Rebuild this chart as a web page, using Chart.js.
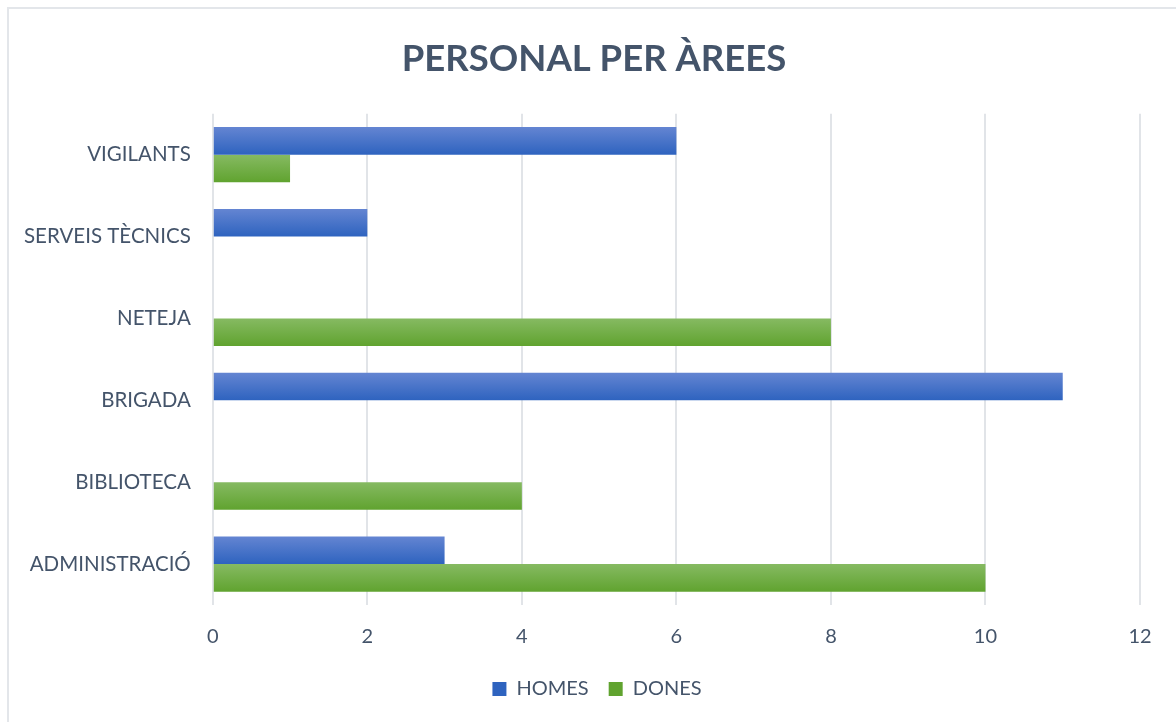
<!DOCTYPE html>
<html>
<head>
<meta charset="utf-8">
<script src="https://cdn.jsdelivr.net/npm/chart.js@4"></script>
<style>
  body { margin: 0; background: #fff; }
  #frame { position: absolute; left: 7px; top: 7px; width: 1190px; height: 740px; border: 2px solid #e3e6ea; }
  #wrap { position: absolute; left: 0; top: 0; width: 1176px; height: 722px; }
</style>
</head>
<body>
<div id="frame"></div>
<div id="wrap"><canvas id="areaChart"></canvas></div>
<script>
// categories (top to bottom)
var arees = ['VIGILANTS', 'SERVEIS TÈCNICS', 'NETEJA', 'BRIGADA', 'BIBLIOTECA', 'ADMINISTRACIÓ'];
// series
var homes = [6, 2, 0, 11, 0, 3];
var dones = [1, 0, 8, 0, 4, 10];
var xTicks = [0, 2, 4, 6, 8, 10, 12];

var textColor = '#44546a';
var catPct = 0.675;

// degradat vertical per cada barra (estil Excel)
function barGradient(top, bottom, dsIndex) {
	return function(context) {
		var chart = context.chart;
		if (!chart.chartArea || context.dataIndex === undefined) return bottom;
		var yScale = chart.scales.y;
		var band = (yScale.bottom - yScale.top) / arees.length;
		var th = band * catPct / 2;
		var center = yScale.getPixelForValue(context.dataIndex);
		var y0 = center - th + dsIndex * th;
		var g = chart.ctx.createLinearGradient(0, y0, 0, y0 + th);
		g.addColorStop(0, top);
		g.addColorStop(1, bottom);
		return g;
	};
}

// centra títol i llegenda sobre tot el gràfic
var centerBlocks = {
	id: 'centerBlocks',
	afterLayout: function(chart) {
		if (chart.titleBlock) {
			chart.titleBlock.left += 23;
			chart.titleBlock.right += 23;
		}
		if (chart.legend) {
			chart.legend.left += 26;
			chart.legend.right += 26;
		}
	}
};

var chartArea = document.getElementById('areaChart').getContext('2d');
var myChart = new Chart(chartArea, {
	type: 'bar',
	data: {
		labels: arees,
		datasets: [{
			label: 'HOMES',
			data: homes,
			backgroundColor: barGradient('#6485d2', '#2e63bf', 0),
			borderWidth: 0,
			categoryPercentage: catPct,
			barPercentage: 1
		}, {
			label: 'DONES',
			data: dones,
			backgroundColor: barGradient('#86ba62', '#60a32f', 1),
			borderWidth: 0,
			categoryPercentage: catPct,
			barPercentage: 1
		}]
	},
	options: {
		indexAxis: 'y',
		responsive: true,
		maintainAspectRatio: false,
		animation: false,
		layout: {
			padding: { left: 2, right: 36, top: 37, bottom: 13 }
		},
		scales: {
			x: {
				min: 0,
				max: 12,
				afterBuildTicks: function(axis) {
					axis.ticks = xTicks.map(function(v) { return { value: v }; });
				},
				afterFit: function(scale) {
					scale.height -= 10;
				},
				grid: { color: '#e1e4e8', lineWidth: 2, drawTicks: false },
				border: { display: false },
				ticks: { color: textColor, padding: 20, font: { family: 'Lato', size: 20 } }
			},
			y: {
				grid: { display: false, drawTicks: false },
				border: { display: false },
				ticks: { color: textColor, padding: 22, font: { family: 'Lato', size: 20.5 } }
			}
		},
		plugins: {
			title: {
				display: true,
				text: 'PERSONAL PER ÀREES',
				color: textColor,
				font: { family: 'Lato', size: 36.5, weight: 'bold' },
				padding: { top: 0, bottom: 33 }
			},
			legend: {
				position: 'bottom',
				labels: {
					color: textColor,
					font: { family: 'Lato', size: 20 },
					boxWidth: 14,
					boxHeight: 14,
					padding: 20,
					useBorderRadius: false
				}
			},
			tooltip: { enabled: false }
		}
	},
	plugins: [centerBlocks]
});
</script>
</body>
</html>
